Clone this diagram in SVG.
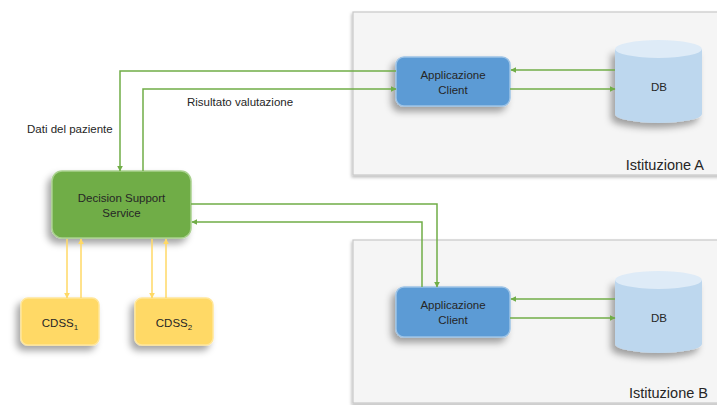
<svg xmlns="http://www.w3.org/2000/svg" width="717" height="405" viewBox="0 0 717 405">
<defs>
<filter id="sh" x="-30%" y="-30%" width="160%" height="170%">
<feDropShadow dx="-4" dy="5" stdDeviation="3.5" flood-color="#000" flood-opacity="0.35"/>
</filter>
<filter id="shp" x="-5%" y="-5%" width="110%" height="115%">
<feDropShadow dx="-1" dy="2" stdDeviation="1.5" flood-color="#000" flood-opacity="0.25"/>
</filter>
<marker id="ag" viewBox="0 0 10 10" refX="9" refY="5" markerWidth="6" markerHeight="6" orient="auto" markerUnits="userSpaceOnUse">
<path d="M0,0 L10,5 L0,10 z" fill="#70ad47"/>
</marker>
<marker id="ay" viewBox="0 0 10 10" refX="9" refY="5" markerWidth="6" markerHeight="6" orient="auto" markerUnits="userSpaceOnUse">
<path d="M0,0 L10,5 L0,10 z" fill="#ffd966"/>
</marker>
</defs>
<style>
text{font-family:"Liberation Sans",Arial,sans-serif;fill:#262626}
.lbl{font-size:11.5px}
.big{font-size:14.5px}
.panel{fill:#f5f5f5;stroke:#c8c8c8;stroke-width:1.2}
.client{fill:#5b9bd5;stroke:#9dc3e6;stroke-width:1.5}
.dss{fill:#70ad47;stroke:#a9d18e;stroke-width:1.5}
.cdss{fill:#ffd966;stroke:#ffe699;stroke-width:1.5}
.dbb{fill:#bdd7ee}
.dbt{fill:#deebf7}
.g{fill:none;stroke:#70ad47;stroke-width:1.5}
.y{fill:none;stroke:#ffd966;stroke-width:1.5}
</style>
<rect width="717" height="405" fill="#ffffff"/>

<g id="istituzione-a">
<rect class="panel" x="353" y="12" width="380" height="163" filter="url(#shp)"/>
<text class="big" x="704" y="170" text-anchor="end">Istituzione A</text>
</g>
<g id="istituzione-b">
<rect class="panel" x="353" y="240" width="380" height="163" filter="url(#shp)"/>
<text class="big" x="708" y="398" text-anchor="end">Istituzione B</text>
</g>

<g id="client-a">
<rect class="client" x="396" y="57" width="114" height="49" rx="8" filter="url(#sh)"/>
<text class="lbl" x="453" y="79" text-anchor="middle">Applicazione</text>
<text class="lbl" x="453" y="94" text-anchor="middle">Client</text>
</g>
<g id="db-a">
<path class="dbb" d="M615,49 V114 A43.5,9 0 0 0 702,114 V49 z" filter="url(#sh)"/>
<ellipse class="dbt" cx="658.5" cy="49" rx="43.5" ry="9"/>
<text class="lbl" x="659" y="91" text-anchor="middle">DB</text>
</g>

<g id="client-b">
<rect class="client" x="396" y="287" width="114" height="50" rx="8" filter="url(#sh)"/>
<text class="lbl" x="453" y="309" text-anchor="middle">Applicazione</text>
<text class="lbl" x="453" y="324" text-anchor="middle">Client</text>
</g>
<g id="db-b">
<path class="dbb" d="M615,280 V344 A43.5,9 0 0 0 702,344 V280 z" filter="url(#sh)"/>
<ellipse class="dbt" cx="658.5" cy="280" rx="43.5" ry="9"/>
<text class="lbl" x="659" y="322" text-anchor="middle">DB</text>
</g>

<g id="dss">
<rect class="dss" x="52" y="171" width="139" height="67" rx="10" filter="url(#sh)"/>
<text class="lbl" x="121.5" y="202" text-anchor="middle">Decision Support</text>
<text class="lbl" x="121.5" y="217" text-anchor="middle">Service</text>
</g>

<g id="cdss1">
<rect class="cdss" x="21" y="298" width="78" height="47" rx="7" filter="url(#sh)"/>
<text class="lbl" x="60" y="327" text-anchor="middle">CDSS<tspan font-size="8" dy="3">1</tspan></text>
</g>
<g id="cdss2">
<rect class="cdss" x="135" y="298" width="78" height="47" rx="7" filter="url(#sh)"/>
<text class="lbl" x="174" y="327" text-anchor="middle">CDSS<tspan font-size="8" dy="3">2</tspan></text>
</g>

<g id="connectors">
<path class="g" d="M396,71 H120 V171" marker-end="url(#ag)"/>
<path class="g" d="M143,171 V89 H396" marker-end="url(#ag)"/>
<path class="g" d="M615,70 H511" marker-end="url(#ag)"/>
<path class="g" d="M510,89 H615" marker-end="url(#ag)"/>
<path class="g" d="M191,204 H437 V287" marker-end="url(#ag)"/>
<path class="g" d="M422,287 V222 H192" marker-end="url(#ag)"/>
<path class="g" d="M615,299 H511" marker-end="url(#ag)"/>
<path class="g" d="M510,318 H615" marker-end="url(#ag)"/>
<path class="y" d="M67,239 V298" marker-end="url(#ay)"/>
<path class="y" d="M81,298 V239" marker-end="url(#ay)"/>
<path class="y" d="M152,239 V298" marker-end="url(#ay)"/>
<path class="y" d="M166,298 V239" marker-end="url(#ay)"/>
<text class="lbl" x="27" y="133">Dati del paziente</text>
<text class="lbl" x="187" y="106">Risultato valutazione</text>
</g>
</svg>
